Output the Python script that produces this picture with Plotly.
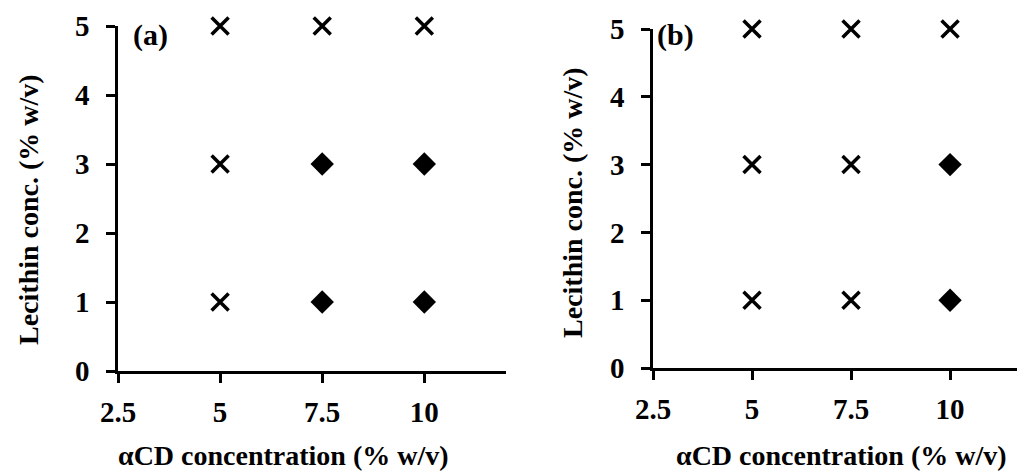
import plotly.graph_objects as go

# ---- data ----
x_ticks = [2.5, 5, 7.5, 10]
y_ticks = [0, 1, 2, 3, 4, 5]

# panel (a)
a_cross_x = [5, 5, 5, 7.5, 10]
a_cross_y = [1, 3, 5, 5, 5]
a_diam_x = [7.5, 7.5, 10, 10]
a_diam_y = [1, 3, 1, 3]

# panel (b)
b_cross_x = [5, 5, 5, 7.5, 7.5, 7.5, 10]
b_cross_y = [1, 3, 5, 1, 3, 5, 5]
b_diam_x = [10, 10]
b_diam_y = [1, 3]

x_title = "αCD concentration (% w/v)"
y_title = "Lecithin conc. (% w/v)"

FONT = "Liberation Serif"
W, H = 1017, 472

cross = dict(symbol="x-thin-open", size=17, color="black", line=dict(width=3.5, color="black"))
diam = dict(symbol="diamond", size=18, color="black", line=dict(width=0))

fig = go.Figure()
fig.add_trace(go.Scatter(x=a_cross_x, y=a_cross_y, mode="markers", marker=cross, xaxis="x", yaxis="y", cliponaxis=False))
fig.add_trace(go.Scatter(x=a_diam_x, y=a_diam_y, mode="markers", marker=diam, xaxis="x", yaxis="y", cliponaxis=False))
fig.add_trace(go.Scatter(x=b_cross_x, y=b_cross_y, mode="markers", marker=cross, xaxis="x2", yaxis="y2", cliponaxis=False))
fig.add_trace(go.Scatter(x=b_diam_x, y=b_diam_y, mode="markers", marker=diam, xaxis="x2", yaxis="y2", cliponaxis=False))

tickfont = dict(family=FONT, size=29, color="black", weight="bold")

def xax(domain, anchor, rng):
    return dict(domain=domain, anchor=anchor, range=rng, tickvals=x_ticks,
                ticktext=[str(v) for v in x_ticks], automargin=False,
                showline=True, linecolor="black", linewidth=2.5, ticks="outside",
                ticklen=9, tickwidth=2.5, tickcolor="black", showgrid=False, zeroline=False,
                tickfont=tickfont, ticklabelstandoff=4)

def yax(domain, anchor):
    return dict(domain=domain, anchor=anchor, range=[0, 5], tickvals=y_ticks, automargin=False,
                showline=True, linecolor="black", linewidth=2.5, ticks="outside",
                ticklen=9, tickwidth=2.5, tickcolor="black", showgrid=False, zeroline=False,
                tickfont=tickfont, ticklabelstandoff=11)

fig.update_layout(
    template="none",
    width=W, height=H, margin=dict(l=0, r=0, t=0, b=0, pad=0),
    paper_bgcolor="white", plot_bgcolor="white", showlegend=False,
    xaxis=xax([118 / W, 506 / W], "y", [2.5, 12]),
    yaxis=yax([(H - 371) / H, (H - 26) / H], "x"),
    xaxis2=xax([653 / W, 1.0], "y2", [2.5, 11.69]),
    yaxis2=yax([(H - 368) / H, (H - 29) / H], "x2"),
)

tfont = dict(family=FONT, size=28, color="black", weight="bold")
lfont = dict(family=FONT, size=30, color="black", weight="bold")
ann = [
    dict(text=x_title, x=283 / W, y=0, xref="paper", yref="paper",
         showarrow=False, font=tfont, xanchor="center", yanchor="bottom", borderpad=0),
    dict(text=x_title, x=841 / W, y=0, xref="paper", yref="paper",
         showarrow=False, font=tfont, xanchor="center", yanchor="bottom", borderpad=0),
    dict(text=y_title, x=28 / W, y=(H - 210) / H, xref="paper", yref="paper",
         showarrow=False, font=tfont, textangle=-90, xanchor="center", yanchor="middle"),
    dict(text=y_title, x=573 / W, y=(H - 203) / H, xref="paper", yref="paper",
         showarrow=False, font=tfont, textangle=-90, xanchor="center", yanchor="middle"),
    dict(text="(a)", x=150 / W, y=(H - 35) / H, xref="paper", yref="paper",
         showarrow=False, font=lfont, xanchor="center", yanchor="middle"),
    dict(text="(b)", x=675 / W, y=(H - 35) / H, xref="paper", yref="paper",
         showarrow=False, font=lfont, xanchor="center", yanchor="middle"),
]
fig.update_layout(annotations=ann)

fig.write_html("out.html")
